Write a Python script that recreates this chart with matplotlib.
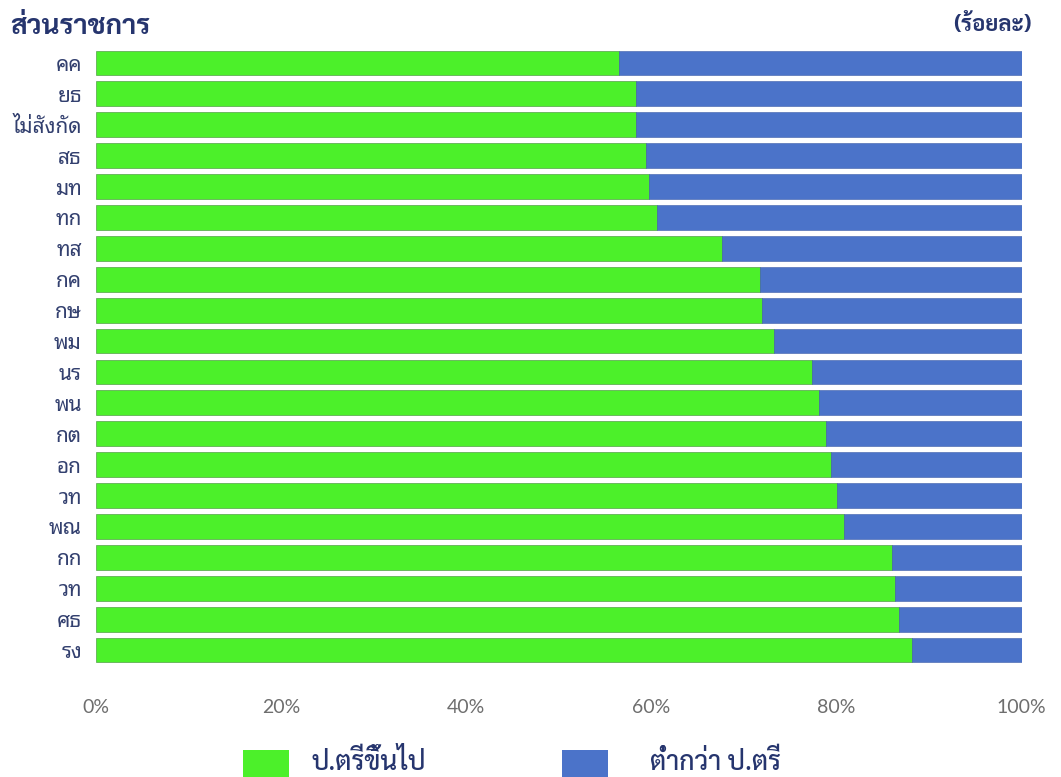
import matplotlib
matplotlib.use("Agg")
import matplotlib.pyplot as plt
from matplotlib.patches import Rectangle

categories = ["คค", "ยธ", "ไม่สังกัด", "สธ", "มท", "ทก", "ทส", "กค", "กษ", "พม",
              "นร", "พน", "กต", "อก", "วท", "พณ", "กก", "วท", "ศธ", "รง"]
bachelor_up = [56.5, 58.4, 58.4, 59.4, 59.8, 60.6, 67.6, 71.7, 72.0, 73.3,
               77.4, 78.1, 78.9, 79.4, 80.1, 80.8, 86.0, 86.3, 86.8, 88.2]
below_bachelor = [100 - v for v in bachelor_up]
xticks = [0, 20, 40, 60, 80, 100]
xtick_labels = ["0%", "20%", "40%", "60%", "80%", "100%"]
series_names = ["ป.ตรีขึ้นไป", "ต่ำกว่า ป.ตรี"]
title_text = "ส่วนราชการ"
unit_text = "(ร้อยละ)"

GREEN = "#4cf02a"
BLUE = "#4b73c9"
NAVY = "#26356e"
THAI = ["Noto Sans Thai Looped", "DejaVu Sans"]
THAI_B = ["Sarabun", "DejaVu Sans"]

W, H = 1061, 777
fig = plt.figure(figsize=(W / 100, H / 100), dpi=100)
fig.patch.set_facecolor("white")
ax = fig.add_axes([95.8 / W, 1 - 665.5 / H, 925.8 / W, 618 / H])
y = list(range(len(categories)))
ax.barh(y, bachelor_up, height=0.8, color=GREEN, edgecolor="#3f8a35", linewidth=0.4)
ax.barh(y, below_bachelor, left=bachelor_up, height=0.8, color=BLUE,
        edgecolor="#3c5ea8", linewidth=0.4)
ax.set_ylim(len(categories) - 0.5, -0.5)
ax.set_xlim(0, 100)
ax.set_yticks(y)
ax.set_yticklabels(categories, family=THAI, fontsize=15, color="#33406f")
ax.set_xticks(xticks)
ax.set_xticklabels(xtick_labels, family=["Lato", "DejaVu Sans"], fontsize=14,
                   color="#6e6e6e")
for s in ax.spines.values():
    s.set_visible(False)
ax.tick_params(axis="y", length=0, pad=10)
ax.tick_params(axis="x", length=0, pad=24)

fig.text(10 / W, 1 - 34 / H, title_text, family=THAI_B, fontsize=20,
         fontweight="bold", color=NAVY, va="baseline", ha="left")
fig.text(1032 / W, 1 - 31 / H, unit_text, family=THAI_B, fontsize=16,
         fontweight="bold", color=NAVY, va="baseline", ha="right")

# legend
rects = [(243, GREEN), (562, BLUE)]
text_x = [312, 650]
for (rx, col), tx, name in zip(rects, text_x, series_names):
    fig.patches.append(Rectangle((rx / W, 0), 46 / W, (777 - 750) / H,
                                 transform=fig.transFigure, facecolor=col,
                                 edgecolor="none"))
    fig.text(tx / W, 1 - 770 / H, name, family=THAI_B, fontsize=19,
             fontweight="medium", color=NAVY, va="baseline", ha="left")

fig.savefig("out.png", dpi=100)
